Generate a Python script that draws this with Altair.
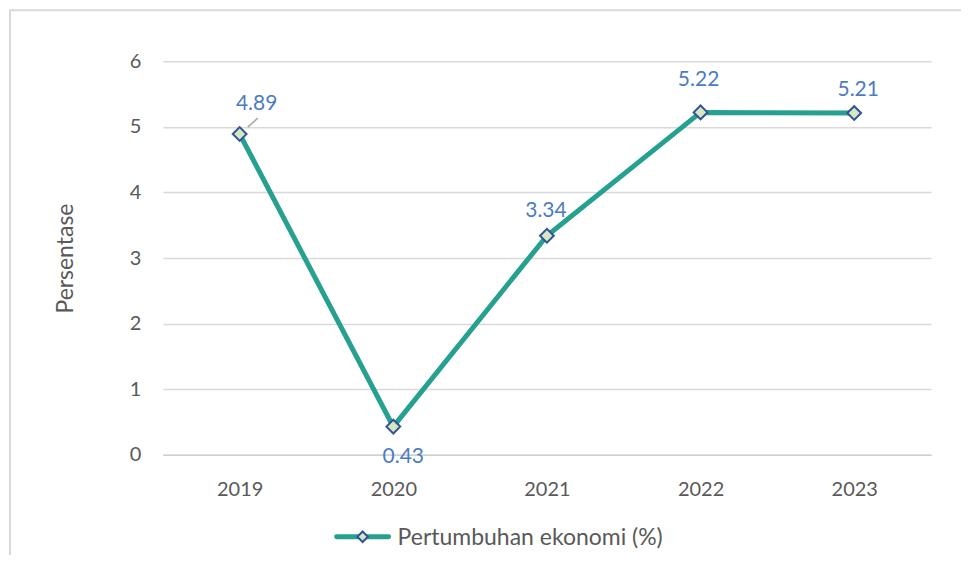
import altair as alt
import pandas as pd

years = ["2019", "2020", "2021", "2022", "2023"]
values = [4.89, 0.43, 3.34, 5.22, 5.21]
label_dx = [17, 10, -1, -2, 4]
label_dy = [-30, 30, -25, -32, -23]
series_name = "Pertumbuhan ekonomi (%)"
y_ticks = [0, 1, 2, 3, 4, 5, 6]

df = pd.DataFrame({"Tahun": years, "Nilai": values})

FONT = "Lato"
LINE = "#26a08f"
FILL = "#d8e6c2"
EDGE = "#2f5597"
LBL = "#4a7cc4"
TXT = "#595959"
W, H = 769, 394

x = alt.X("Tahun:O", scale=alt.Scale(type="point", padding=0.5, domain=years),
          axis=alt.Axis(title=None, labelAngle=0, labelFontSize=20, labelColor=TXT,
                        labelFont=FONT, ticks=False, domain=True, domainColor="#d0d0d0",
                        domainWidth=1.5, labelPadding=25, grid=False))
y = alt.Y("Nilai:Q", scale=alt.Scale(domain=[0, 6], nice=False),
          axis=alt.Axis(title="Persentase", values=y_ticks, titleFontSize=23, titleFont=FONT,
                        titleColor=TXT, titleFontWeight="normal", titlePadding=52,
                        labelFontSize=20, labelFont=FONT, labelColor=TXT,
                        ticks=False, domain=False, labelPadding=22,
                        gridColor="#d9d9d9", gridWidth=1.5))

base = alt.Chart(df)

border = alt.Chart(pd.DataFrame({"a": [0]})).mark_rect(
    fillOpacity=0, stroke="#d9d9d9", strokeWidth=2, clip=False
).encode(x=alt.value(-153), x2=alt.value(W + 60), y=alt.value(-51), y2=alt.value(H + 160))

line = base.mark_line(color=LINE, strokeWidth=5).encode(x=x, y=y)
pts = base.mark_point(shape="diamond", filled=True, fill=FILL, stroke=EDGE,
                      strokeWidth=2, size=190, opacity=1).encode(x=x, y=y)

labels = []
for i, yr in enumerate(years):
    labels.append(
        alt.Chart(df).transform_filter(alt.datum.Tahun == yr).mark_text(
            font=FONT, fontSize=21, color=LBL, dx=label_dx[i], dy=label_dy[i]
        ).encode(x=x, y=y, text=alt.Text("Nilai:Q", format=".2f"))
    )

leader = alt.Chart(pd.DataFrame({"a": [0]})).mark_rule(color="#a6a6a6", strokeWidth=1.5).encode(
    x=alt.value(85), x2=alt.value(95), y=alt.value(66), y2=alt.value(57))

leg_df = pd.DataFrame({"name": [series_name]})
leg_line = alt.Chart(leg_df).mark_rule(color=LINE, strokeWidth=5, strokeCap="round", clip=False).encode(
    x=alt.value(174), x2=alt.value(226), y=alt.value(476), y2=alt.value(476))
leg_pt = alt.Chart(leg_df).mark_point(shape="diamond", filled=True, fill=FILL, stroke=EDGE,
                                      strokeWidth=2, size=110, opacity=1, clip=False).encode(
    x=alt.value(200), y=alt.value(476))
leg_txt = alt.Chart(leg_df).mark_text(align="left", baseline="middle", font=FONT, fontSize=23,
                                      color=TXT, clip=False).encode(
    x=alt.value(235), y=alt.value(477), text="name:N")

chart = alt.layer(border, line, leader, pts, *labels, leg_line, leg_pt, leg_txt).properties(
    width=W, height=H,
    autosize=alt.AutoSizeParams(type="none"),
    padding={"left": 155, "top": 53, "right": 30, "bottom": 100},
).configure(background="white").configure_view(stroke="#ffffff", strokeWidth=1)

chart.save("out.html", embed_options={"renderer": "svg", "actions": False})
